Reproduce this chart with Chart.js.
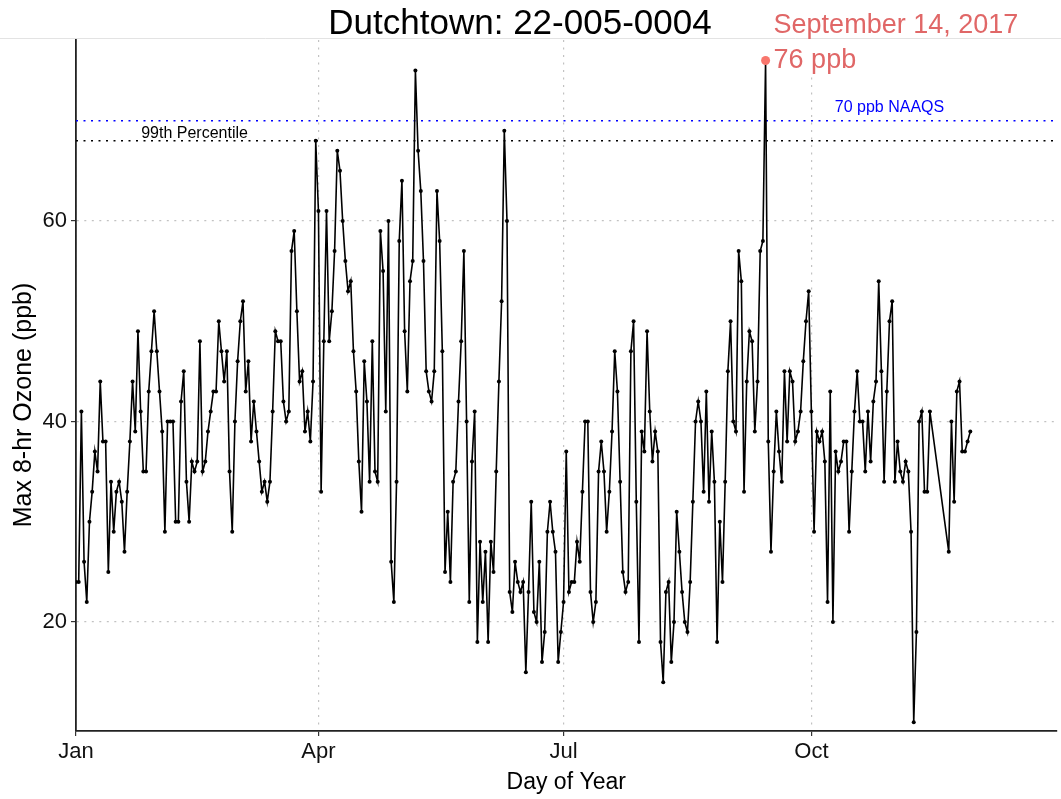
<!DOCTYPE html>
<html><head><meta charset="utf-8">
<script src="https://cdn.jsdelivr.net/npm/chart.js@4.4.1/dist/chart.umd.min.js"></script>
<style>html,body{margin:0;padding:0;background:#fff}#c{display:block}</style>
</head><body>
<canvas id="c" width="1061" height="799"></canvas>
<script>
// ---- text ----
const titleText = 'Dutchtown: 22-005-0004';
const xTitle = 'Day of Year';
const yTitle = 'Max 8-hr Ozone (ppb)';
const naaqsLabel = '70 ppb NAAQS';
const pctLabel = '99th Percentile';
const peakDate = 'September 14, 2017';
const peakLabel = '76 ppb';

// ---- ticks ----
const monthTickDays = [1, 91, 182, 274];
const monthTickLabels = ['Jan', 'Apr', 'Jul', 'Oct'];
const yTicks = [20, 40, 60];

// ---- reference values ----
const naaqs = 70;
const pct99 = 68;
const peakDay = 257;
const peakValue = 76;

// ---- daily max 8-hr ozone (ppb), by quarter; first day-of-year of each block ----
const startQ1 = 1;
const ozoneQ1 = [24,24,41,26,22,30,33,37,35,44,38,38,25,34,29,33,34,32,27,33,38,44,39,49,41,35,35,43,47,51,47,43,39,29,
  40,40,40,30,30,42,45,34,30,36,35,36,48,35,36,39,41,43,43,50,47,44,47,35,29,40,46,50,52,43,46,38,42,39,
  36,33,34,32,34,41,49,48,48,42,40,41,57,59,51,44,45,39,41,38,44,68];
const startQ2 = 91;
const ozoneQ2 = [61,33,48,61,48,51,57,67,65,60,56,53,54,47,43,36,31,46,42,34,48,35,34,59,55,41,60,26,22,34,58,64,49,43,54,56,
  75,67,63,56,45,43,42,45,63,58,47,25,31,24,34,35,42,48,57,40,22,36,41,18,28,22,27,18,28,25,35,44,52,
  69,60,23,21,26,24,23,24,15,23,32,21,20,26,16,19,29,32,29,27,16,19];
const startQ3 = 182;
const ozoneQ3 = [22,37,23,24,24,28,26,33,40,40,23,20,22,35,38,35,29,33,39,47,
  43,34,25,23,24,47,50,32,18,39,37,49,41,36,39,37,18,14,
  23,24,16,20,31,27,23,20,19,24,32,40,42,40,33,
  43,32,39,34,18,30,24,34,45,50,40,39,57,54,33,44,49,48,39,44,57,58,76,
  38,27,35,41,37,34,45,38,45,44,38,39,41,46,50,53];
const startQ4 = 274;
const ozoneQ4 = [41,29,39,38,39,36,22,43,20,37,35,36,38,38,29,35,41,45,40,40,35,41,36,42,44,54,45,34,
  43,50,52,34,38,35,34,36,35,29,10,19,40,41,33,33,41];
const startLate = 325;
const ozoneLate = [27,40,32,43,44,37,37,38,39];

// ---- axis range ----
const xMin = 1, xMax = 365;
const yMin = 9.13, yMax = 78.05;

const FONT = '"Liberation Sans", Arial, sans-serif';

function block(start, vals) { return vals.map((v, i) => ({ x: start + i, y: v })); }
const series = [].concat(
  block(startQ1, ozoneQ1), block(startQ2, ozoneQ2), block(startQ3, ozoneQ3),
  block(startQ4, ozoneQ4), block(startLate, ozoneLate));

const annot = {
  id: 'annot',
  afterDraw(chart) {
    const { ctx, chartArea: ca, scales: { x, y } } = chart;
    ctx.save();
    // faint top rule
    ctx.strokeStyle = '#E3E3E3'; ctx.lineWidth = 1;
    ctx.beginPath(); ctx.moveTo(0, 38.5); ctx.lineTo(1061, 38.5); ctx.stroke();
    // title
    ctx.fillStyle = '#000'; ctx.textAlign = 'center'; ctx.textBaseline = 'alphabetic';
    ctx.font = '35px ' + FONT;
    ctx.fillText(titleText, 520, 34);
    // axis titles
    ctx.font = '23px ' + FONT;
    ctx.fillText(xTitle, (ca.left + ca.right) / 2, 789);
    ctx.save();
    ctx.font = '25px ' + FONT;
    ctx.translate(31, 405); ctx.rotate(-Math.PI / 2);
    ctx.fillText(yTitle, 0, 0);
    ctx.restore();
    // reference line labels
    ctx.font = '16px ' + FONT;
    ctx.fillStyle = '#0000FF';
    ctx.fillText(naaqsLabel, x.getPixelForValue(303), y.getPixelForValue(naaqs) - 9);
    ctx.fillStyle = '#000';
    ctx.fillText(pctLabel, x.getPixelForValue(45), y.getPixelForValue(pct99) - 3);
    // peak label
    const px = x.getPixelForValue(peakDay), py = y.getPixelForValue(peakValue);
    ctx.fillStyle = '#fff';
    ctx.fillRect(px + 6, 40, 92, 35);
    ctx.fillStyle = '#E06767';
    ctx.textAlign = 'left';
    ctx.font = '27px ' + FONT;
    ctx.fillText(peakLabel, px + 8, py + 7);
    ctx.fillText(peakDate, px + 8, 33);
    ctx.restore();
  }
};

new Chart(document.getElementById('c'), {
  type: 'line',
  data: {
    datasets: [
      { data: [{ x: peakDay, y: peakValue }], showLine: false, pointRadius: 4.5,
        pointBackgroundColor: '#F8766D', pointBorderWidth: 0, order: 0, clip: false },
      { data: series, borderColor: '#000', borderWidth: 1.6, pointRadius: 2,
        pointBackgroundColor: '#000', pointBorderWidth: 0, tension: 0, order: 1 },
      { data: [{ x: xMin, y: naaqs }, { x: xMax, y: naaqs }], borderColor: '#0000FF',
        borderWidth: 1.6, borderDash: [2, 5.5], pointRadius: 0, order: 2 },
      { data: [{ x: xMin, y: pct99 }, { x: xMax, y: pct99 }], borderColor: '#000',
        borderWidth: 1.6, borderDash: [2, 5.5], pointRadius: 0, order: 3 }
    ]
  },
  options: {
    responsive: false, animation: false, devicePixelRatio: 1,
    layout: { padding: { top: 40, right: 3, left: 0, bottom: 0 } },
    plugins: { legend: { display: false }, tooltip: { enabled: false }, title: { display: false } },
    scales: {
      x: {
        type: 'linear', min: xMin, max: xMax,
        afterBuildTicks: s => { s.ticks = monthTickDays.map(v => ({ value: v })); },
        afterFit: s => { s.height = 68; },
        ticks: { autoSkip: false, maxRotation: 0, padding: 3, color: '#111',
          font: { family: FONT, size: 22 },
          callback: v => monthTickLabels[monthTickDays.indexOf(v)] },
        grid: { color: '#C2C2C2', lineWidth: 1.2, tickLength: 5, tickColor: '#333' },
        border: { display: true, color: '#222', width: 1.8, dash: [2, 5.5] }
      },
      y: {
        type: 'linear', min: yMin, max: yMax,
        afterBuildTicks: s => { s.ticks = yTicks.map(v => ({ value: v })); },
        afterFit: s => { s.width = 76; },
        ticks: { autoSkip: false, padding: 4, color: '#111',
          font: { family: FONT, size: 22 } },
        grid: { color: '#C2C2C2', lineWidth: 1.2, tickLength: 5, tickColor: '#333' },
        border: { display: true, color: '#222', width: 1.8, dash: [2, 5.5] }
      }
    }
  },
  plugins: [annot]
});
</script>
</body></html>
